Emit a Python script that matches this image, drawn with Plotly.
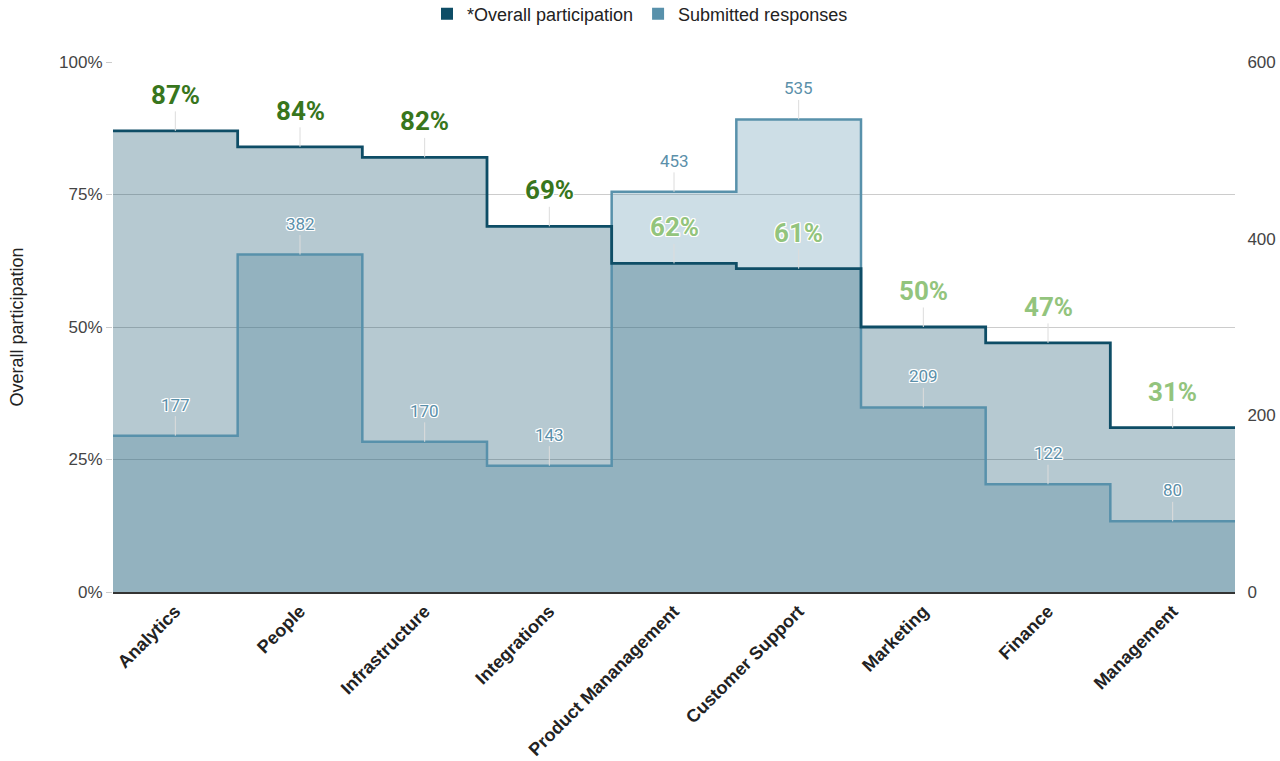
import numpy as np
import plotly.graph_objects as go

categories = ["Analytics", "People", "Infrastructure", "Integrations", "Product Mananagement",
              "Customer Support", "Marketing", "Finance", "Management"]
overall = [0.87, 0.84, 0.82, 0.69, 0.62, 0.61, 0.50, 0.47, 0.31]
responses = [177, 382, 170, 143, 453, 535, 209, 122, 80]

NAVY = "#0e4d66"
BLUE = "#5891ab"
DARK_GREEN = "#38761d"
LIGHT_GREEN = "#93c47d"
OUTLINE = ("-1px -1px 0 #fff, 1px -1px 0 #fff, -1px 1px 0 #fff, 1px 1px 0 #fff, "
           "0 1px 0 #fff, 0 -1px 0 #fff, 1px 0 0 #fff, -1px 0 0 #fff")

n = len(categories)
xs = list(np.arange(n + 1) - 0.5)
ov_step = overall + [overall[-1]]
rs_step = responses + [responses[-1]]

fig = go.Figure()
# dummy on base subplot (percent axis with grid)
fig.add_trace(go.Scatter(x=[None], y=[None], yaxis="y", showlegend=False, hoverinfo="skip"))
# responses fill (right axis)
fig.add_trace(go.Scatter(x=xs, y=rs_step, yaxis="y2", mode="lines", line=dict(shape="hv", width=0),
                         fill="tozeroy", fillcolor="rgba(88,145,171,0.3)", showlegend=False, hoverinfo="skip"))
# overall fill
fig.add_trace(go.Scatter(x=xs, y=ov_step, yaxis="y3", mode="lines", line=dict(shape="hv", width=0),
                         fill="tozeroy", fillcolor="rgba(14,77,102,0.3)", showlegend=False, hoverinfo="skip"))
# lines
fig.add_trace(go.Scatter(x=xs, y=rs_step, yaxis="y4", mode="lines",
                         line=dict(shape="hv", width=2.5, color=BLUE), showlegend=False))
fig.add_trace(go.Scatter(x=xs, y=ov_step, yaxis="y5", mode="lines",
                         line=dict(shape="hv", width=2.8, color=NAVY), showlegend=False))
# legend entries
fig.add_trace(go.Scatter(x=[None], y=[None], mode="markers", name="*Overall participation",
                         marker=dict(symbol="square", size=16, color=NAVY)))
fig.add_trace(go.Scatter(x=[None], y=[None], mode="markers", name="Submitted responses",
                         marker=dict(symbol="square", size=16, color=BLUE)))

annotations = []
for i, v in enumerate(overall):
    annotations.append(dict(
        x=i, y=v, xref="x", yref="y", text=f"{round(v*100)}%",
        showarrow=True, arrowhead=0, arrowwidth=1, arrowcolor="#dcdcdc", ax=0, ay=-36, standoff=0,
        font=dict(family="Roboto", size=26, color=DARK_GREEN if v >= 0.65 else LIGHT_GREEN,
                  weight="bold", shadow=OUTLINE)))
for i, r in enumerate(responses):
    annotations.append(dict(
        x=i, y=r, xref="x", yref="y2", text=str(r),
        showarrow=True, arrowhead=0, arrowwidth=1, arrowcolor="#dcdcdc", ax=0, ay=-31, standoff=0,
        font=dict(family="Roboto", size=17, color="#5b90aa", shadow=OUTLINE)))

fig.update_layout(
    width=1280, height=761,
    margin=dict(l=113, r=45, t=62, b=169, autoexpand=False),
    paper_bgcolor="white", plot_bgcolor="white",
    font=dict(family="Arial", color="#444"),
    showlegend=True,
    legend=dict(orientation="h", xref="container", yref="container", x=0.5, y=1 - 14 / 761,
                xanchor="center", yanchor="middle", font=dict(family="Arial", size=18, color="#222"),
                itemsizing="constant"),
    xaxis=dict(range=[-0.5, n - 0.5], tickvals=list(range(n)), ticktext=categories,
               tickangle=-45, tickfont=dict(family="Arial", size=18, color="#222", weight="bold"),
               showgrid=False, zeroline=False, showline=True, linecolor="#333", linewidth=1.5,
               ticks="", fixedrange=True, automargin=False),
    yaxis=dict(range=[0, 1], tickvals=[0, 0.25, 0.5, 0.75, 1], tickformat=".0%",
               showgrid=True, gridcolor="#cccccc", gridwidth=1, zeroline=False,
               ticks="outside", ticklen=6, tickcolor="#cccccc", automargin=False,
               tickfont=dict(family="Arial", size=17, color="#444"),
               title=dict(text="Overall participation", font=dict(family="Arial", size=18, color="#222"),
                          standoff=30)),
    yaxis2=dict(range=[0, 600], tickvals=[0, 200, 400, 600], overlaying="y", side="right",
                showgrid=False, zeroline=False, ticks="outside", ticklen=8, tickcolor="rgba(0,0,0,0)",
                tickfont=dict(family="Arial", size=17, color="#444"), automargin=False),
    yaxis3=dict(range=[0, 1], overlaying="y", visible=False),
    yaxis4=dict(range=[0, 600], overlaying="y", visible=False),
    yaxis5=dict(range=[0, 1], overlaying="y", visible=False),
    annotations=annotations,
)

fig.write_html("out.html", config={"displayModeBar": False},
               post_script="document.body.style.margin='0';document.body.style.overflow='hidden';")
